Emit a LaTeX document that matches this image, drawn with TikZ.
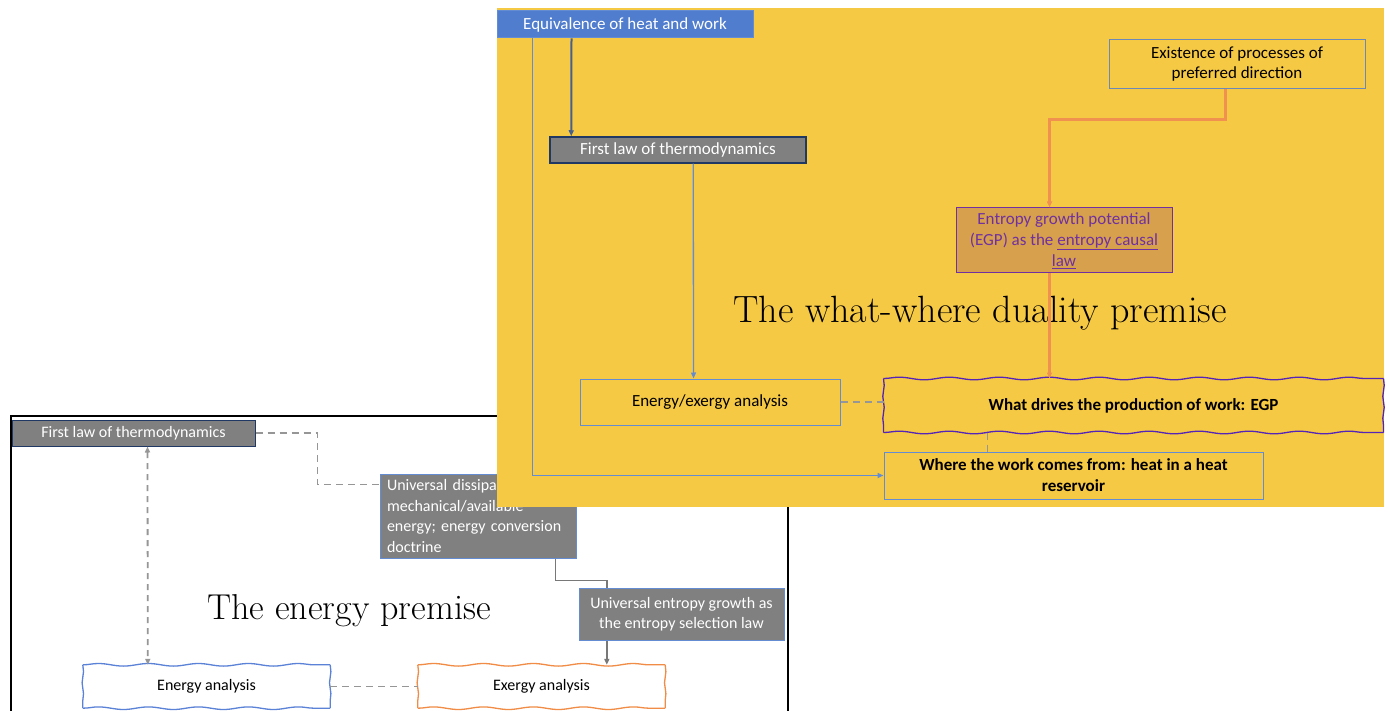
\documentclass[tikz,border=0pt]{standalone}
\usepackage{fontspec}
\newfontfamily\calib{Carlito}
\usetikzlibrary{arrows.meta,decorations.pathmorphing}
\definecolor{yel}{RGB}{246,201,69}
\definecolor{boxgray}{RGB}{128,128,128}
\definecolor{navy}{RGB}{32,56,100}
\definecolor{bluefill}{RGB}{80,125,205}
\definecolor{blueline}{RGB}{100,140,210}
\definecolor{darkblueline}{RGB}{70,95,140}
\definecolor{orangeline}{RGB}{240,145,80}
\definecolor{purp}{RGB}{112,48,160}
\definecolor{egpfill}{RGB}{214,160,77}
\definecolor{dashgray}{RGB}{150,150,150}
\definecolor{arrgray}{RGB}{120,120,120}
\definecolor{wavyblue}{RGB}{90,130,215}
\definecolor{wavyorange}{RGB}{240,140,70}
\newcommand\topfont{\calib\fontsize{17}{21}\selectfont}
\newcommand\botfont{\calib\fontsize{16}{20.5}\selectfont}
\tikzset{
  box/.style={draw, inner sep=0pt, inner xsep=6pt, font=\topfont, align=center, line width=1pt},
  graybox/.style={box, fill=boxgray, text=white},
  yelbox/.style={box, fill=yel, draw=blueline, text=black},
  arr/.style={-{Triangle[length=6pt,width=5pt]}, line width=1.5pt},
  dashln/.style={dashed, dash pattern=on 7pt off 5pt, draw=dashgray, line width=1.8pt},
  wavyh/.style={decorate, decoration={snake, amplitude=1.3pt, segment length=50pt}, line width=1.3pt},
  wavyv/.style={decorate, decoration={snake, amplitude=0.7pt, segment length=22pt}, line width=1.3pt},
  title/.style={inner sep=0pt}
}
\newcommand\wavyrect[2]{%
  \draw[wavyh, draw=#2] (#1.north west) -- (#1.north east);
  \draw[wavyh, draw=#2] (#1.south west) -- (#1.south east);
  \draw[wavyv, draw=#2] (#1.north east) -- (#1.south east);
  \draw[wavyv, draw=#2] (#1.north west) -- (#1.south west);
}
\begin{document}
\begin{tikzpicture}[x=1pt,y=-1pt]
\useasboundingbox (0,0) rectangle (1389,711);
\fill[white] (0,0) rectangle (1389,711);

% ---------- bottom-left panel ----------
\draw[black, line width=1.8pt] (11,712) -- (11,416) -- (788,416) -- (788,712);

\node[title, font=\fontsize{36}{42}\selectfont] (t2) at (349,611) {The energy premise};

\node[graybox, draw=navy, font=\botfont, minimum width=243pt, minimum height=26pt] (fl2) at (133.5,433) {First law of thermodynamics};
\node[graybox, draw=blueline, minimum width=196pt, minimum height=84pt, text width=182pt, inner xsep=7pt, align=left, font=\botfont] (ud) at (478,516) {Universal dissipation of\\mechanical/available\\energy; energy conversion\\doctrine};
\node[draw=none, fill=white, minimum width=247pt, minimum height=43pt, inner sep=0pt, font=\botfont] (ea) at (206.5,686.5) {Energy analysis};
\node[draw=none, fill=white, minimum width=247pt, minimum height=43pt, inner sep=0pt, font=\botfont] (xa) at (541.5,686.5) {Exergy analysis};
\wavyrect{ea}{wavyblue}
\wavyrect{xa}{wavyorange}

% gray connector from ud to exergy (under ue box)
\draw[arr, draw=arrgray, line width=1.8pt] ([xshift=176pt]ud.south west) -- ++(0,22) -| ([xshift=189pt]xa.north west);
\node[graybox, draw=blueline, font=\botfont, minimum width=205pt, minimum height=52pt] (ue) at (681.5,614) {Universal entropy growth as\\the entropy selection law};

\draw[dashln] (fl2.east) -- ++(62,0) |- ([yshift=-11pt]ud.north west);
\draw[dashln, {Triangle[length=6pt,width=5pt]}-{Triangle[length=6pt,width=5pt]}, dash pattern=on 6pt off 5pt] ([xshift=136pt]fl2.south west) -- ([xshift=65pt]ea.north west);
\draw[dashln] (ea.east) -- (xa.west);

% ---------- yellow panel ----------
\fill[yel] (497,8) rectangle (1384,507);

\node[title, font=\fontsize{38}{44}\selectfont] (t1) at (980,313) {The what-where duality premise};

\node[box, fill=bluefill, draw=blueline, text=white, minimum width=256pt, minimum height=27pt] (eq) at (625,24.5) {Equivalence of heat and work};
\node[graybox, draw=navy, line width=1.5pt, minimum width=256pt, minimum height=26pt] (fl1) at (678,150) {First law of thermodynamics};
\node[yelbox, draw=blueline!70!gray, minimum width=256pt, minimum height=49pt, font=\calib\fontsize{17}{20}\selectfont] (ex) at (1237,64.5) {Existence of processes of\\preferred direction};
\node[box, fill=egpfill, draw=purp, text=purp, minimum width=216pt, minimum height=65pt] (egp) at (1064,240.5) {Entropy growth potential\\(EGP) as the \underline{entropy causal}\\\underline{law}};
\node[yelbox, minimum width=260pt, minimum height=46pt] (ee) at (710,402) {Energy/exergy analysis};
\node[box, draw=none, fill=yel, minimum width=499pt, minimum height=53pt, font=\calib\bfseries\fontsize{17}{21}\selectfont] (wd) at (1133.5,405.5) {What drives the production of work: EGP};
\wavyrect{wd}{purp!75!blue}
\node[yelbox, minimum width=379pt, minimum height=47pt, font=\calib\bfseries\fontsize{17}{21}\selectfont] (wh) at (1073.5,475.5) {Where the work comes from: heat in a heat\\reservoir};

% connectors in yellow panel
\draw[arr, draw=darkblueline, line width=2pt] ([xshift=75pt]eq.south west) -- ([xshift=22pt]fl1.north west);
\draw[arr, draw=blueline, line width=1.8pt] ([xshift=36pt]eq.south west) |- (wh.west);
\draw[arr, draw=blueline, line width=1.3pt] ([xshift=144pt]fl1.south west) -- ([xshift=114pt]ee.north west);
\draw[arr, draw=orangeline, line width=2.2pt] ([xshift=117pt]ex.south west) -- ++(0,30) -| ([xshift=94pt]egp.north west);
\draw[arr, draw=orangeline, line width=2.2pt] ([xshift=94pt]egp.south west) -- ([xshift=166pt]wd.north west);
\draw[dashln] (ee.east) -- (ee.east -| wd.west);
\draw[dashln] ([xshift=104pt]wd.south west) -- ([xshift=104pt]wh.north west);
\end{tikzpicture}
\end{document}
